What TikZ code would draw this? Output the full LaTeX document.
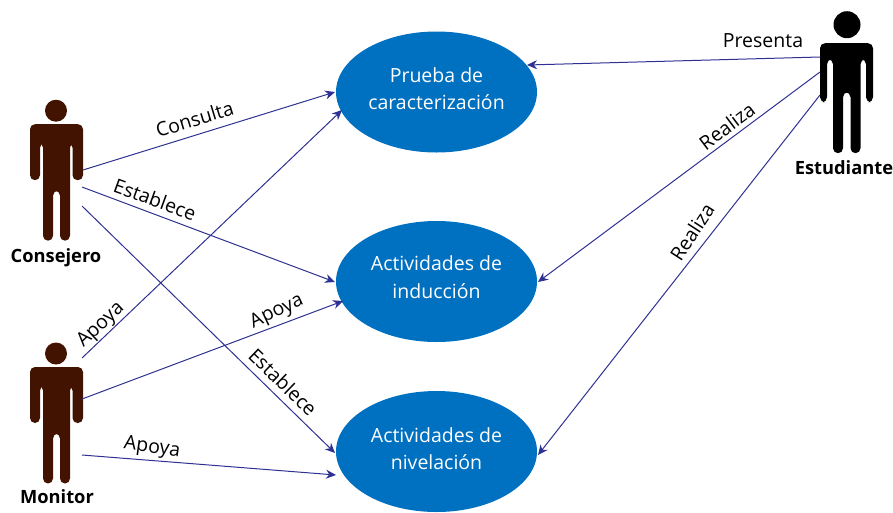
\documentclass[tikz,border=0pt]{standalone}
\usepackage{fontspec}
\setmainfont{Open Sans}
\usetikzlibrary{arrows.meta,shapes.geometric}
\definecolor{ublue}{RGB}{0,112,192}
\definecolor{lineblue}{RGB}{46,49,146}
\definecolor{brownfig}{RGB}{66,19,0}
\tikzset{
  x=1pt,y=-1pt,
  usecase/.style={ellipse,fill=ublue,text=white,minimum width=201pt,minimum height=121pt,inner sep=0pt,align=center,font=\fontsize{19.5}{27.5}\selectfont},
  link/.style={draw=lineblue,line width=1pt,-{Stealth[length=10pt,width=9pt]}},
  lbl/.style={font=\fontsize{19.5}{22}\selectfont,text=black,inner sep=0pt},
  actor/.style={font=\fontsize{18.3}{20}\selectfont\bfseries,text=black,inner sep=0pt},
  personA/.pic={
    \fill[pic actions] (0,0) circle[radius=11];
    \fill[pic actions,rounded corners=5pt] (-26,13.5) -- (27,13.5) -- (27,69.5) -- (16.5,69.5) -- (16.5,32) -- (14,32) -- (14,130) -- (4,130) -- (4,80) -- (-3,80) -- (-3,130) -- (-13,130) -- (-13,32) -- (-16,32) -- (-16,69.5) -- (-26,69.5) -- cycle;
  },
  personB/.pic={
    \fill[pic actions] (0,0) circle[radius=13.5];
    \fill[pic actions,rounded corners=5pt] (-27,18.5) -- (26,18.5) -- (26,77.5) -- (19,77.5) -- (19,34.5) -- (13.5,34.5) -- (13.5,128.5) -- (3.5,128.5) -- (3.5,67.5) -- (-4,67.5) -- (-4,128.5) -- (-14,128.5) -- (-14,34.5) -- (-20,34.5) -- (-20,77.5) -- (-27,77.5) -- cycle;
  }
}
\begin{document}
\begin{tikzpicture}
\useasboundingbox (0,0) rectangle (893,512);
\node[usecase] (e1) at (436.5,92) {Prueba de\\caracterización\\[-21pt]\mbox{}};
\node[usecase] (e2) at (436.5,281.5) {Actividades de\\inducción\\[-19pt]\mbox{}};
\node[usecase] (e3) at (436.5,451.5) {Actividades de\\nivelación\\[-22pt]\mbox{}};
\pic[fill=brownfig] at (56,110.7) {personA};
\pic[fill=brownfig] at (56,353.5) {personA};
\pic[fill=black] at (847,24.7) {personB};
\node[actor] (consejero) at (56,258) {Consejero};
\node[actor] (monitor) at (57,497) {Monitor};
\node[actor] (estudiante) at (844,168) {Estudiante};
\coordinate (c1) at (83,170);
\coordinate (c2) at (82,187);
\coordinate (c3) at (82,206);
\coordinate (m1) at (82,358);
\coordinate (m2) at (82,399);
\coordinate (m3) at (82,455);
\coordinate (s1) at (820,57);
\coordinate (s2) at (820,72);
\coordinate (s3) at (820,95);
\coordinate (t1) at (335,92);
\coordinate (t2) at (335,282);
\coordinate (t3) at (335,453);
\coordinate (t4) at (342,110);
\coordinate (t5) at (343,301);
\coordinate (t6) at (336,475);
\coordinate (t7) at (527,65);
\coordinate (t8) at (538,282);
\coordinate (t9) at (538,455);
\draw[link] (c1) -- (t1);
\draw[link] (c2) -- (t2);
\draw[link] (c3) -- (t3);
\draw[link] (m1) -- (t4);
\draw[link] (m2) -- (t5);
\draw[link] (m3) -- (t6);
\draw[link] (s1) -- (t7);
\draw[link] (s2) -- (t8);
\draw[link] (s3) -- (t9);
\node[lbl,rotate=17] (l1) at (194.5,119) {Consulta};
\node[lbl,rotate=-20] (l2) at (155,199.5) {Establece};
\node[lbl,rotate=-44] (l3) at (283,382) {Establece};
\node[lbl,rotate=43] (l4) at (101,325) {Apoya};
\node[lbl,rotate=25] (l5) at (277,312) {Apoya};
\node[lbl,rotate=-8] (l6) at (152,448) {Apoya};
\node[lbl] (l7) at (763,41) {Presenta};
\node[lbl,rotate=37] (l8) at (727,126) {Realiza};
\node[lbl,rotate=57] (l9) at (692,232) {Realiza};
\end{tikzpicture}
\end{document}
